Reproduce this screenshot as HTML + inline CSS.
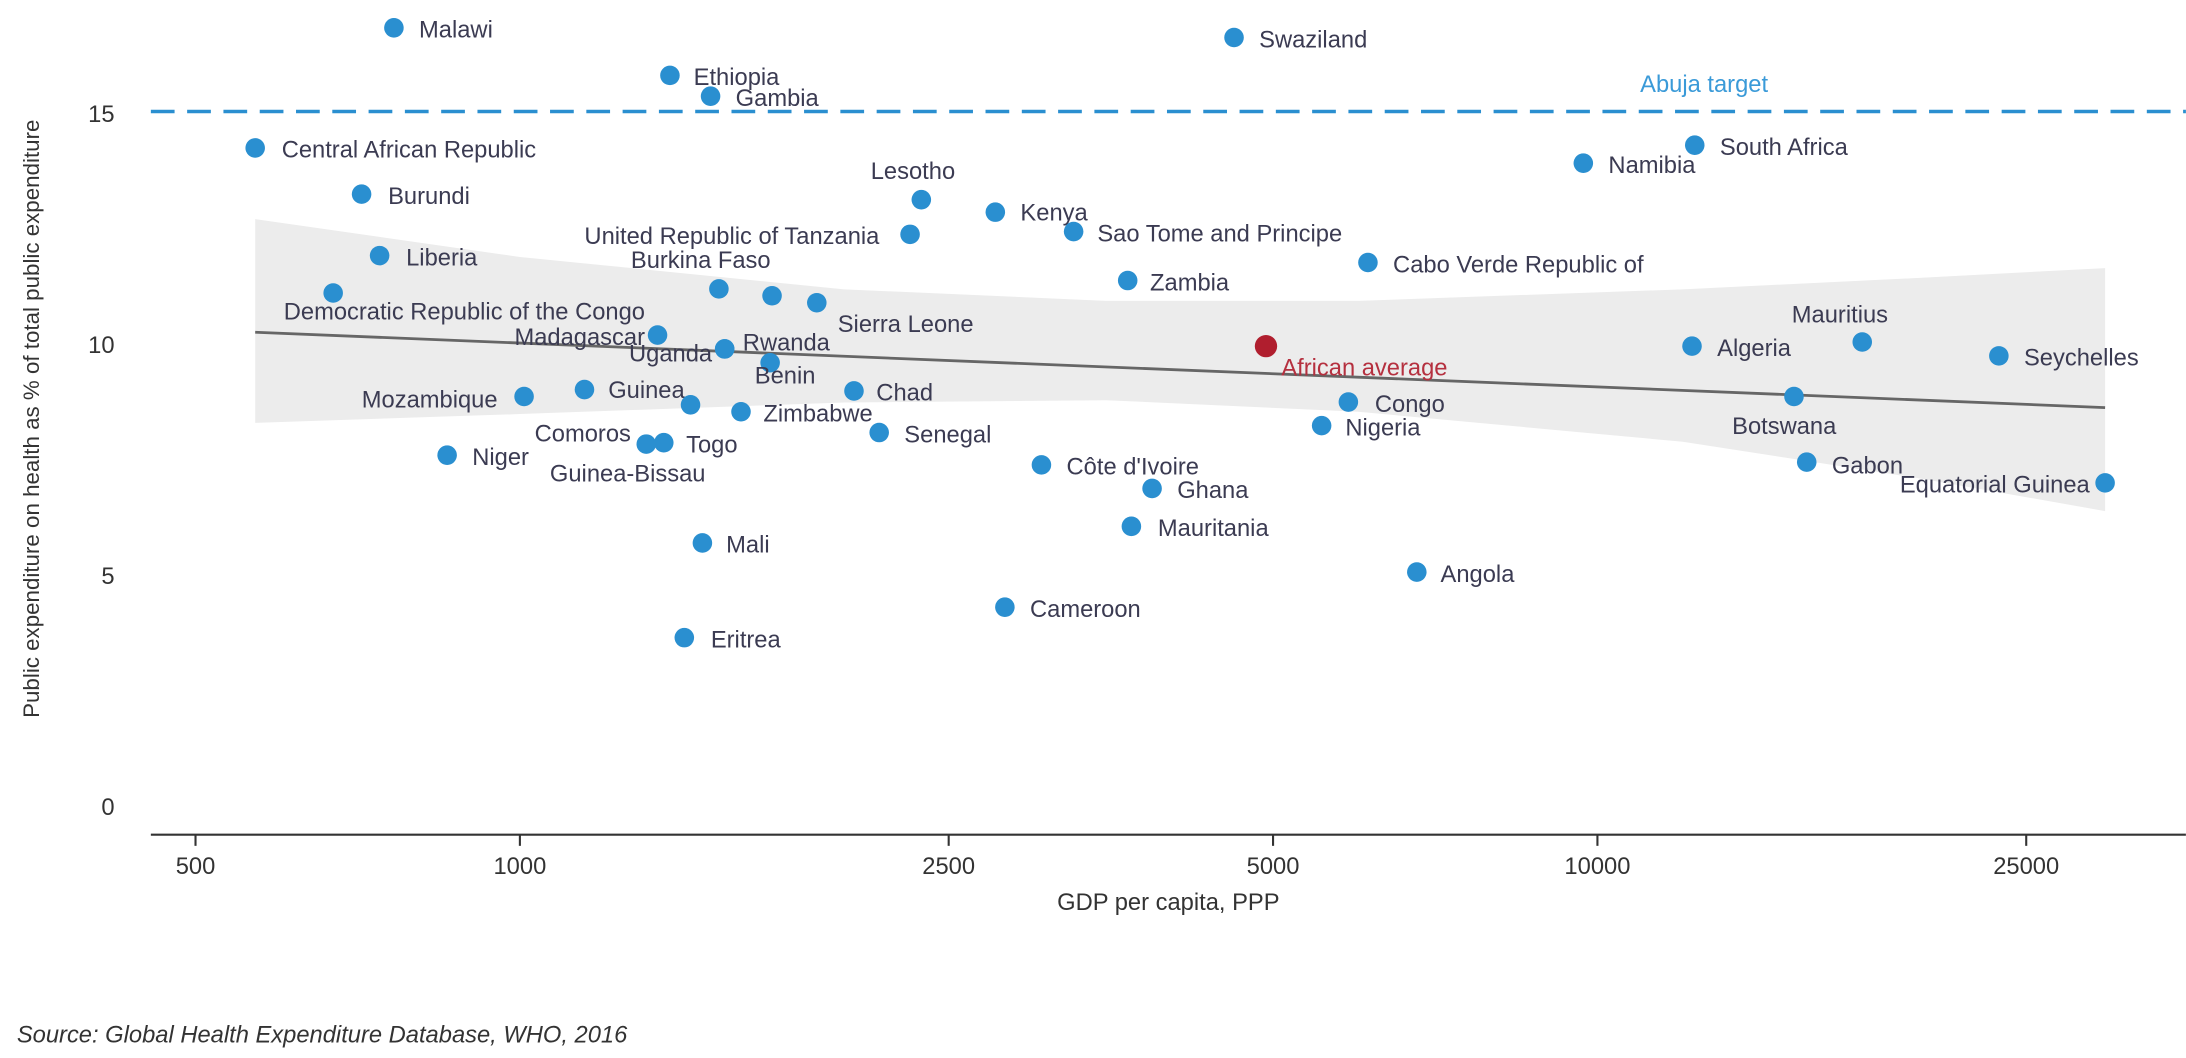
<!DOCTYPE html>
<html><head><meta charset="utf-8"><style>
html,body{margin:0;padding:0;background:#fff;}
svg{display:block;font-family:"Liberation Sans",sans-serif;}
</style></head><body>
<svg id="chart" width="2186" height="1058" viewBox="0 0 1566 758" xmlns="http://www.w3.org/2000/svg">
<rect width="1566" height="758" fill="#fff"/>
<g id="band"></g><g id="grid"></g><g id="pts"></g>
</svg>
<script>
const names=["Malawi","Ethiopia","Gambia","Swaziland","Central African Republic","Burundi","Liberia","Democratic Republic of the Congo","Lesotho","Kenya","United Republic of Tanzania","Sao Tome and Principe","Burkina Faso","","Sierra Leone","Madagascar","Uganda","Rwanda","Benin","Chad","Zimbabwe","Guinea","Mozambique","Guinea-Bissau","Comoros","Togo","Niger","Senegal","Côte d'Ivoire","Ghana","Mauritania","Mali","Cameroon","Eritrea","Zambia","Cabo Verde Republic of","Congo","Nigeria","Angola","Namibia","South Africa","Algeria","Mauritius","Botswana","Gabon","Equatorial Guinea","Seychelles"];
const gdp=[764,1378,1503,4600,568,713,741,671,2358,2762,2302,3265,1530,1714,1886,1342,1549,1549,1707,2042,1604,1148,1009,1440,1310,1360,856,2155,3048,3861,3694,1477,2819,1421,3665,6124,5873,5547,6798,9703,12312,12240,17610,15220,15640,29590,23580];
const share=[16.86,15.83,15.38,16.65,14.26,13.26,11.93,11.12,13.14,12.87,12.39,12.45,11.21,11.06,10.91,10.21,9.91,9.91,9.61,9.0,8.55,9.03,8.88,8.7,7.85,7.88,7.61,8.1,7.4,6.89,6.07,5.71,4.32,3.66,11.39,11.78,8.76,8.25,5.08,13.93,14.32,9.97,10.06,8.88,7.46,7.01,9.76];
const avgGdp=[4925], avgShare=[9.97];
const trendX=[568,29590], trendY=[10.27,8.64];
const bandX=[568,1000,2000,3500,6000,12000,20000,29590];
const bandUp=[12.72,11.9,11.2,10.95,10.95,11.2,11.45,11.66];
const bandLo=[8.31,8.5,8.75,8.8,8.55,7.9,7.1,6.40];
const xTicks=[500,1000,2500,5000,10000,25000];
const yTicks=[0,5,10,15];
const abuja=[15.05];
// label layout: [dx,dy,anchor]
const lay=[[18,2,"start"],[17,2,"start"],[18,2,"start"],[18,2,"start"],[19,2,"start"],[19,2,"start"],[19,2,"start"],[94,14,"middle"],[-6,-20,"middle"],[18,1,"start"],[-22,2,"end"],[17,2,"start"],[-13,-20,"middle"],[0,0,"none"],[15,16,"start"],[-9,2,"end"],[-9,4,"end"],[13,-4,"start"],[-11,10,"start"],[16,2,"start"],[16,2,"start"],[17,1,"start"],[-19,3,"end"],[-45,50,"middle"],[-11,-7,"end"],[16,2,"start"],[18,2,"start"],[18,2,"start"],[18,2,"start"],[18,2,"start"],[19,2,"start"],[17,2,"start"],[18,2,"start"],[19,2,"start"],[16,2,"start"],[18,2,"start"],[19,2,"start"],[17,2,"start"],[17,2,"start"],[18,2,"start"],[18,2,"start"],[18,2,"start"],[-16,-19,"middle"],[-7,22,"middle"],[18,3,"start"],[-11,2,"end"],[18,2,"start"]];
const NS="http://www.w3.org/2000/svg";
const X=v=>140+772*Math.log10(v/500);
const Y=v=>578-33.1*v;
function mk(tag,at,parent,txt){const e=document.createElementNS(NS,tag);for(const k in at)e.setAttribute(k,at[k]);if(txt!==undefined)e.textContent=txt;parent.appendChild(e);return e;}
const band=document.getElementById('band'),grid=document.getElementById('grid'),pts=document.getElementById('pts');
let d="";
bandX.forEach((v,i)=>{d+=(i?"L":"M")+X(v)+","+Y(bandUp[i]);});
for(let i=bandX.length-1;i>=0;i--)d+="L"+X(bandX[i])+","+Y(bandLo[i]);
const bp=mk('path',{d:d+"Z",fill:"#ececec"},band);


const tl=mk('line',{x1:X(trendX[0]),y1:Y(trendY[0]),x2:X(trendX[1]),y2:Y(trendY[1]),stroke:"#666",'stroke-width':2},band);


const al=mk('line',{x1:108,y1:Y(abuja[0]),x2:1566,y2:Y(abuja[0]),stroke:"#2a8fd0",'stroke-width':2.5,'stroke-dasharray':"17 9"},grid);


const at=mk('text',{x:1175,y:Y(abuja[0])-14,fill:"#3a9ad8",'font-size':17},grid,"Abuja target");


const ax=mk('line',{x1:108,y1:598,x2:1566,y2:598,stroke:"#333",'stroke-width':1.5},grid);


xTicks.forEach(t=>{
  const tk=mk('line',{x1:X(t),y1:598,x2:X(t),y2:606,stroke:"#333",'stroke-width':1.5},grid);
  
  
  const lb=mk('text',{x:X(t),y:626,'text-anchor':"middle",fill:"#333",'font-size':17},grid,String(t));
  
  
});
yTicks.forEach(t=>{
  const lb=mk('text',{x:82,y:Y(t)+6,'text-anchor':"end",fill:"#333",'font-size':17},grid,String(t));
  
  
});
const yt=mk('text',{x:0,y:0,transform:"translate(28,300) rotate(-90)",'text-anchor':"middle",fill:"#333",'font-size':16},grid,"Public expenditure on health as % of total public expenditure");


const xt=mk('text',{x:837,y:652,'text-anchor':"middle",fill:"#333",'font-size':17},grid,"GDP per capita, PPP");


const src=mk('text',{x:12,y:747,fill:"#333",'font-size':17,'font-style':"italic"},grid,"Source: Global Health Expenditure Database, WHO, 2016");


names.forEach((n,i)=>{
  const cx=X(gdp[i]),cy=Y(share[i]);
  const c=mk('circle',{cx:cx,cy:cy,r:7,fill:"#2a8fd0"},pts);
  
  
  const L=lay[i];
  if(n&&L[2]!=="none"){
    const t=mk('text',{x:cx+L[0],y:cy+L[1],'text-anchor':L[2],'dominant-baseline':"central",fill:"#3b3b52",'font-size':17},pts,n);
    
    
  }
});
const ac=mk('circle',{cx:X(avgGdp[0]),cy:Y(avgShare[0]),r:8,fill:"#b01e2e"},pts);


const atx=mk('text',{x:X(avgGdp[0])+11,y:Y(avgShare[0])+16,'dominant-baseline':"central",fill:"#b5303f",'font-size':17},pts,"African average");


</script>
</body></html>
